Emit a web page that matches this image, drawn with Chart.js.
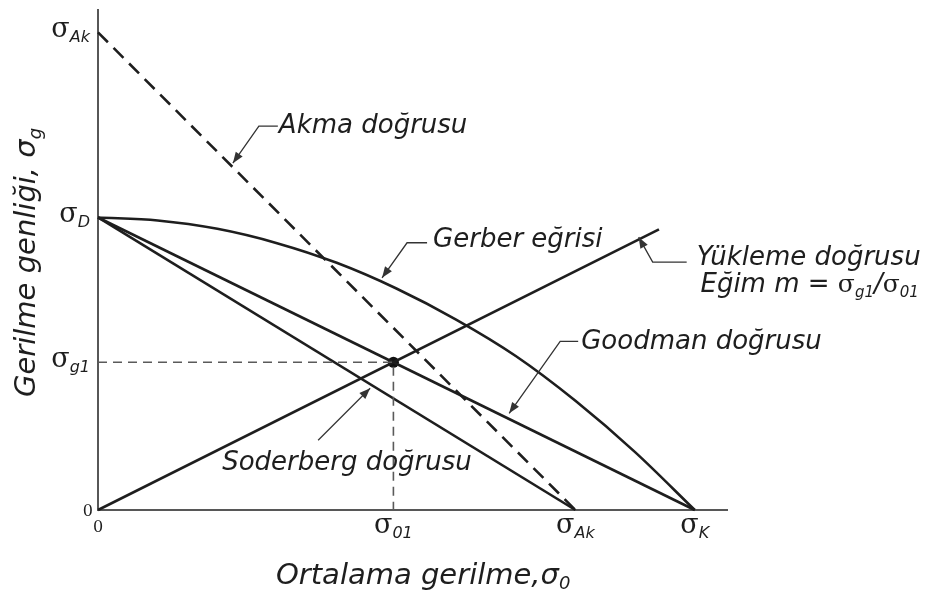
<!DOCTYPE html>
<html>
<head>
<meta charset="utf-8">
<script src="https://cdn.jsdelivr.net/npm/chart.js@4/dist/chart.umd.min.js"></script>
<style>
  html, body { margin: 0; padding: 0; background: #ffffff; }
  canvas { display: block; }
</style>
</head>
<body>
<canvas id="chart" width="927" height="595"></canvas>
<script>
// Characteristic stresses, in common units (σK = 100)
const sigmaK = 100;     // ultimate tensile strength
const sigmaAk = 80;     // yield strength
const sigmaD = 49;      // endurance limit
const sigma01 = 49.5;   // mean stress at the working point
const sigmaG1 = 24.75;  // stress amplitude at the working point

// Axis extents
const meanMax = 105.4;
const ampMax = 83.75;

// Yield (Akma) line
const yieldMean = [0, sigmaAk];
const yieldAmp = [sigmaAk, 0];

// Goodman line
const goodmanMean = [0, sigmaK];
const goodmanAmp = [sigmaD, 0];

// Soderberg line
const soderbergMean = [0, sigmaAk];
const soderbergAmp = [sigmaD, 0];

// Gerber curve
const gerberMean = [0, 10, 20, 30, 40, 50, 60, 70, 80, 90, 100];
const gerberAmp = [49, 48.5, 47.1, 44.7, 41.4, 37.1, 31.9, 25.8, 18.3, 9.7, 0];

// Load line (slope m = σg1/σ01)
const loadMean = [0, 94];
const loadAmp = [0, 47];

// Working point guides
const guideMean = [0, sigma01, sigma01];
const guideAmp = [sigmaG1, sigmaG1, 0];

// Tick labels: value, subscript
const xTickValues = [0, sigma01, sigmaAk, sigmaK];
const xTickSubs = ['', '01', 'Ak', 'K'];
const yTickValues = [0, sigmaG1, sigmaD, sigmaAk];
const yTickSubs = ['', 'g1', 'D', 'Ak'];

const pts = (xs, ys) => xs.map((x, i) => ({ x: x, y: ys[i] }));

const INK = '#1e1e1e';
const AXIS = '#575757';
const SIGMA_FONT = '27px "DejaVu Serif"';
const SUB_FONT = 'italic 16px "DejaVu Sans"';
const NOTE_FONT = 'italic 26px "DejaVu Sans"';

// Draw a sequence of differently styled text runs
function drawRuns(ctx, x, y, runs, align) {
  let total = 0;
  runs.forEach(r => { ctx.font = r.f; r.w = ctx.measureText(r.t).width; total += r.w; });
  let cx = x;
  if (align === 'right') cx = x - total;
  else if (align === 'center') cx = x - total / 2;
  ctx.textAlign = 'left';
  ctx.textBaseline = 'alphabetic';
  runs.forEach(r => {
    ctx.font = r.f;
    ctx.fillText(r.t, cx, y + (r.dy || 0));
    cx += r.w;
  });
}

function sigmaRuns(sub, sigmaFont, subFont, dy) {
  const runs = [{ t: 'σ', f: sigmaFont || SIGMA_FONT }];
  if (sub) runs.push({ t: sub, f: subFont || SUB_FONT, dy: dy === undefined ? 5 : dy });
  return runs;
}

function arrowHead(ctx, fromX, fromY, toX, toY) {
  const ang = Math.atan2(toY - fromY, toX - fromX);
  const len = 11, half = 4.2;
  ctx.beginPath();
  ctx.moveTo(toX, toY);
  ctx.lineTo(toX - len * Math.cos(ang) + half * Math.sin(ang), toY - len * Math.sin(ang) - half * Math.cos(ang));
  ctx.lineTo(toX - len * Math.cos(ang) - half * Math.sin(ang), toY - len * Math.sin(ang) + half * Math.cos(ang));
  ctx.closePath();
  ctx.fill();
}

// Callouts: arrow tip in data units, leader path and text offsets in pixels from the tip
const callouts = [
  { tip: [22.6, 58.1], path: [[45, -37], [26, -37]], lines: [{ text: 'Akma doğrusu', dx: 46, dy: -30 }] },
  { tip: [47.6, 38.9], path: [[45, -35], [25, -35]], lines: [{ text: 'Gerber eğrisi', dx: 51, dy: -31 }] },
  { tip: [90.6, 45.7], path: [[48, 25], [14, 25]], lines: [{ text: 'Yükleme doğrusu', dx: 58, dy: 28 }, { slope: true, dx: 171, dy: 55 }] },
  { tip: [68.9, 16.2], path: [[69, -72], [51, -72]], lines: [{ text: 'Goodman doğrusu', dx: 72, dy: -64 }] },
  { tip: [45.6, 20.4], path: [[-52, 52]], lines: [{ text: 'Soderberg doğrusu', dx: -148, dy: 82 }] }
];

const annotationPlugin = {
  id: 'fatigueAnnotations',
  afterDraw(chart) {
    const ctx = chart.ctx;
    const xs = chart.scales.x, ys = chart.scales.y;
    ctx.save();
    ctx.fillStyle = INK;

    // Mean stress ticks
    xTickValues.forEach((v, i) => {
      const px = xs.getPixelForValue(v);
      const base = ys.getPixelForValue(0);
      if (!xTickSubs[i]) {
        drawRuns(ctx, px, base + 22, [{ t: '0', f: '16px "DejaVu Serif"' }], 'center');
      } else {
        drawRuns(ctx, px, base + 23, sigmaRuns(xTickSubs[i]), 'center');
      }
    });

    // Amplitude ticks
    yTickValues.forEach((v, i) => {
      const py = ys.getPixelForValue(v);
      const left = xs.getPixelForValue(0);
      if (!yTickSubs[i]) {
        drawRuns(ctx, left - 5, py + 6, [{ t: '0', f: '16px "DejaVu Serif"' }], 'right');
      } else {
        drawRuns(ctx, left - 8, py + 5, sigmaRuns(yTickSubs[i]), 'right');
      }
    });

    // Callouts
    callouts.forEach(c => {
      const tx = xs.getPixelForValue(c.tip[0]);
      const ty = ys.getPixelForValue(c.tip[1]);
      ctx.strokeStyle = '#333333';
      ctx.lineWidth = 1.3;
      ctx.beginPath();
      ctx.moveTo(tx + c.path[0][0], ty + c.path[0][1]);
      c.path.slice(1).forEach(p => ctx.lineTo(tx + p[0], ty + p[1]));
      ctx.lineTo(tx, ty);
      ctx.stroke();
      const last = c.path[c.path.length - 1];
      ctx.fillStyle = '#333333';
      arrowHead(ctx, tx + last[0], ty + last[1], tx, ty);
      ctx.fillStyle = INK;
      c.lines.forEach(l => {
        if (l.slope) {
          drawRuns(ctx, tx + l.dx, ty + l.dy, [
            { t: 'Eğim m = ', f: NOTE_FONT },
            { t: 'σ', f: '25px "DejaVu Serif"' },
            { t: 'g1', f: 'italic 15px "DejaVu Sans"', dy: 5 },
            { t: '/', f: NOTE_FONT },
            { t: 'σ', f: '25px "DejaVu Serif"' },
            { t: '01', f: 'italic 15px "DejaVu Sans"', dy: 5 }
          ], 'center');
        } else {
          drawRuns(ctx, tx + l.dx, ty + l.dy, [{ t: l.text, f: NOTE_FONT }], 'left');
        }
      });
    });

    // Axis titles
    drawRuns(ctx, 276, 584, [
      { t: 'Ortalama gerilme,σ', f: 'italic 29px "DejaVu Sans"' },
      { t: '0', f: 'italic 18px "DejaVu Sans"', dy: 5 }
    ], 'left');

    ctx.save();
    ctx.translate(35, 397);
    ctx.rotate(-Math.PI / 2);
    drawRuns(ctx, 0, 0, [
      { t: 'Gerilme genliği, σ', f: 'italic 29px "DejaVu Sans"' },
      { t: 'g', f: 'italic 18px "DejaVu Sans"', dy: 6 }
    ], 'left');
    ctx.restore();

    ctx.restore();
  }
};

const lineDs = (data, extra) => Object.assign({
  data: data,
  showLine: true,
  borderColor: INK,
  borderWidth: 2.6,
  pointRadius: 0,
  pointHoverRadius: 0,
  fill: false,
  clip: false
}, extra || {});

new Chart(document.getElementById('chart'), {
  type: 'scatter',
  data: {
    datasets: [
      lineDs(pts(guideMean, guideAmp), { borderColor: '#5a5a5a', borderWidth: 1.6, borderDash: [9, 6] }),
      lineDs(pts(yieldMean, yieldAmp), { borderDash: [14, 8] }),
      lineDs(pts(gerberMean, gerberAmp), { cubicInterpolationMode: 'monotone' }),
      lineDs(pts(goodmanMean, goodmanAmp)),
      lineDs(pts(soderbergMean, soderbergAmp)),
      lineDs(pts(loadMean, loadAmp)),
      {
        data: [{ x: sigma01, y: sigmaG1 }],
        showLine: false,
        pointRadius: 5.5,
        pointBackgroundColor: '#111111',
        pointBorderColor: '#111111',
        pointBorderWidth: 0,
        clip: false
      }
    ]
  },
  options: {
    responsive: false,
    animation: false,
    devicePixelRatio: 1,
    layout: { padding: { left: 98, right: 200, top: 10, bottom: 85 } },
    plugins: { legend: { display: false }, tooltip: { enabled: false } },
    events: [],
    scales: {
      x: {
        type: 'linear',
        min: 0,
        max: meanMax,
        grid: { display: false, drawTicks: false },
        ticks: { display: false },
        border: { display: true, color: AXIS, width: 2 },
        afterFit(s) { s.height = 0; }
      },
      y: {
        type: 'linear',
        min: 0,
        max: ampMax,
        grid: { display: false, drawTicks: false },
        ticks: { display: false },
        border: { display: true, color: AXIS, width: 2 },
        afterFit(s) { s.width = 0; }
      }
    }
  },
  plugins: [annotationPlugin]
});
</script>
</body>
</html>
